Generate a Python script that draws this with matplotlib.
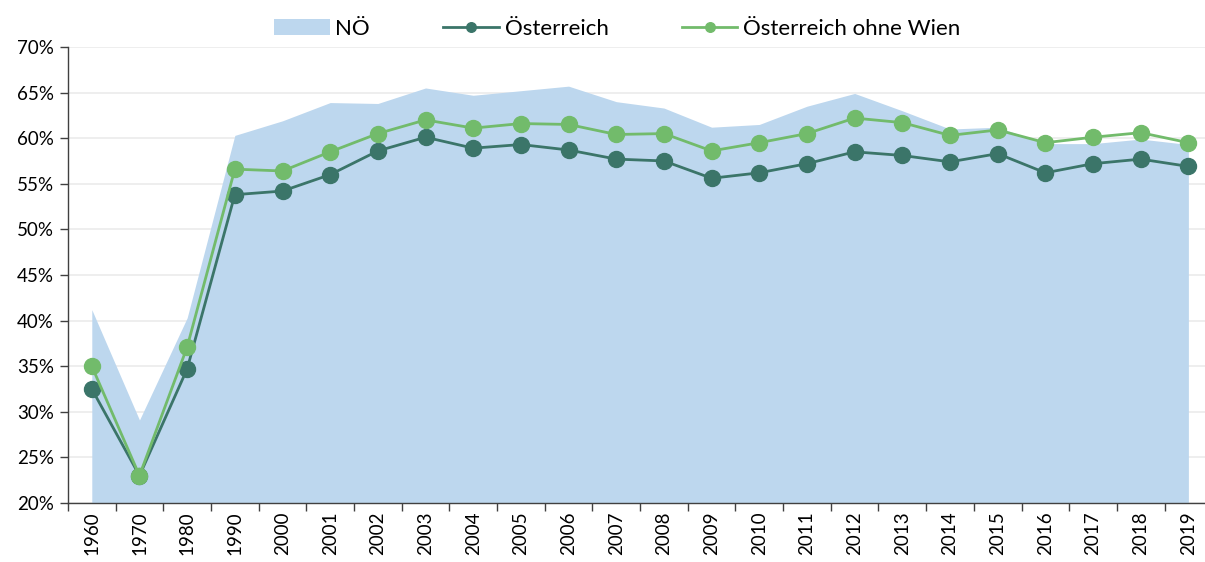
import matplotlib.pyplot as plt
import numpy as np
from matplotlib.ticker import FixedLocator, PercentFormatter

years = ["1960", "1970", "1980", "1990", "2000", "2001", "2002", "2003", "2004",
         "2005", "2006", "2007", "2008", "2009", "2010", "2011", "2012", "2013",
         "2014", "2015", "2016", "2017", "2018", "2019"]

noe = [41.2, 29.1, 40.3, 60.3, 61.9, 63.9, 63.8, 65.5, 64.7, 65.2, 65.7, 64.0,
       63.3, 61.2, 61.5, 63.5, 64.9, 63.0, 61.0, 61.2, 59.4, 59.4, 59.9, 59.3]

oesterreich = [32.5, 23.0, 34.7, 53.8, 54.2, 56.0, 58.6, 60.1, 58.9, 59.3, 58.7,
               57.7, 57.5, 55.6, 56.2, 57.2, 58.5, 58.1, 57.4, 58.3, 56.2, 57.2,
               57.7, 56.9]

oe_ohne_wien = [35.0, 23.0, 37.1, 56.6, 56.4, 58.5, 60.5, 62.0, 61.1, 61.6, 61.5,
                60.4, 60.5, 58.6, 59.5, 60.5, 62.2, 61.7, 60.3, 60.9, 59.5, 60.1,
                60.6, 59.5]

plt.rcParams['font.family'] = ['Lato', 'DejaVu Sans']

fig = plt.figure(figsize=(12.05, 5.62), dpi=100)
ax = fig.add_axes([0.0564, 0.105, 0.9496, 0.8115])

x = np.arange(len(years))
ax.fill_between(x, 20, noe, color="#BDD7EE", linewidth=0, label="NÖ", zorder=1)
ax.plot(x, oesterreich, color="#3B7569", lw=2, marker="o", ms=11.5,
        label="Österreich", zorder=3)
ax.plot(x, oe_ohne_wien, color="#72BB6B", lw=2, marker="o", ms=11.5,
        label="Österreich ohne Wien", zorder=4)

ax.set_xlim(-0.5, len(years) - 0.5)
ax.set_ylim(20, 70)
ax.set_yticks(np.arange(20, 71, 5))
ax.yaxis.set_major_formatter(PercentFormatter(decimals=0))
ax.grid(axis="y", color="#EBEBEB", lw=1.2, zorder=0)
ax.set_axisbelow(True)

ax.set_xticks(x)
ax.set_xticklabels(years, rotation=90)
ax.xaxis.set_minor_locator(FixedLocator(np.arange(-0.5, len(years), 1)))
ax.tick_params(axis="x", which="major", length=0, pad=6, labelsize=13.5)
ax.tick_params(axis="x", which="minor", length=6, color="#404040", width=1)
ax.tick_params(axis="y", length=6, color="#404040", width=1, labelsize=13.5, pad=4)

for s in ["top", "right"]:
    ax.spines[s].set_visible(False)
for s in ["left", "bottom"]:
    ax.spines[s].set_color("#404040")
    ax.spines[s].set_linewidth(1)

ax.legend(loc="upper center", bbox_to_anchor=(0.48, 1.105), ncol=3, frameon=False,
          fontsize=16, handlelength=2.5, columnspacing=3.3, handletextpad=0.25,
          markerscale=0.6)

fig.savefig("out.png", dpi=100)
